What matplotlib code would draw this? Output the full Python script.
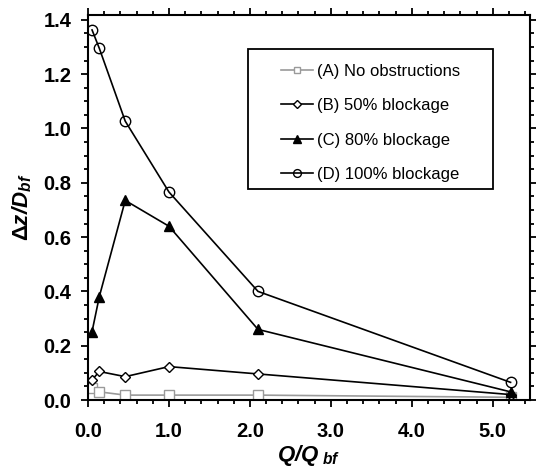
import numpy as np
import matplotlib
matplotlib.use('Agg')
import matplotlib.pyplot as plt
from matplotlib.patches import Rectangle
from matplotlib.ticker import MultipleLocator

plt.rcParams['font.family'] = 'Liberation Sans'
plt.rcParams['mathtext.fontset'] = 'custom'
plt.rcParams['mathtext.rm'] = 'Liberation Sans'
plt.rcParams['mathtext.it'] = 'Liberation Sans:italic'
plt.rcParams['mathtext.bf'] = 'Liberation Sans:bold'
plt.rcParams['mathtext.bfit'] = 'Liberation Sans:bold:italic'

# data
q_ratio = [0.05, 0.14, 0.46, 1.0, 2.1, 5.22]
dz_a = [0.045, 0.03, 0.018, 0.018, 0.018, 0.01]
dz_b = [0.074, 0.105, 0.086, 0.123, 0.096, 0.02]
dz_c = [0.252, 0.381, 0.735, 0.64, 0.26, 0.03]
dz_d = [1.363, 1.295, 1.027, 0.766, 0.40, 0.065]
labels = ['(A) No obstructions', '(B) 50% blockage',
          '(C) 80% blockage', '(D) 100% blockage']

fig = plt.figure(figsize=(5.36, 4.73), dpi=100)
ax = fig.add_axes([88/536, 1-400/473, 442/536, 385/473])

lw = 1.2
ax.plot(q_ratio, dz_a, color='#9a9a9a', lw=lw, marker='s', ms=6.5,
        mfc='white', mec='#9a9a9a', mew=1.0, label=labels[0])
ax.plot(q_ratio, dz_b, color='k', lw=lw, marker='D', ms=5.5,
        mfc='white', mec='k', mew=1.0, label=labels[1])
ax.plot(q_ratio, dz_c, color='k', lw=lw, marker='^', ms=7.5,
        mfc='k', mec='k', label=labels[2])
ax.plot(q_ratio, dz_d, color='k', lw=lw, marker='o', ms=7.5,
        mfc='none', mec='k', mew=1.0, label=labels[3])

ax.set_xlim(0, 5.46)
ax.set_ylim(0, 1.418)
ax.xaxis.set_major_locator(MultipleLocator(1.0))
ax.xaxis.set_minor_locator(MultipleLocator(0.2))
ax.yaxis.set_major_locator(MultipleLocator(0.2))
ax.yaxis.set_minor_locator(MultipleLocator(0.05))
ax.xaxis.set_major_formatter(lambda v, p: '%.1f' % v)
ax.yaxis.set_major_formatter(lambda v, p: '%.1f' % v)

for s in ax.spines.values():
    s.set_linewidth(1.5)
ax.tick_params(which='both', direction='out', top=True, right=True,
               width=1.3, labelsize=14.5)
ax.tick_params(axis='x', which='major', pad=11)
ax.tick_params(axis='y', which='major', pad=7)
ax.tick_params(which='major', length=5)
ax.tick_params(which='minor', length=3)
for t in ax.get_xticklabels() + ax.get_yticklabels():
    t.set_fontweight('bold')

ax.set_xlabel(r'$\mathbfit{Q/Q}_{\ \mathbfit{bf}}$', fontsize=16, labelpad=1)
ax.set_ylabel(r'$\mathbf{\Delta}\mathbfit{z/D}_{\mathbfit{bf}}$', fontsize=16,
              labelpad=7)

leg = ax.legend(loc='upper left', bbox_to_anchor=(283/536 - 0.004, 1-64/473),
                bbox_transform=fig.transFigure, frameon=False, fontsize=12,
                handlelength=1.9, handletextpad=0.25, labelspacing=1.16,
                borderaxespad=0, borderpad=0, markerscale=0.75)
box = Rectangle((248/536, 1-189/473), 245/536, 140/473,
                transform=fig.transFigure, fill=False, lw=1.3, ec='k')
fig.patches.append(box)

fig.savefig('out.png', dpi=100)
